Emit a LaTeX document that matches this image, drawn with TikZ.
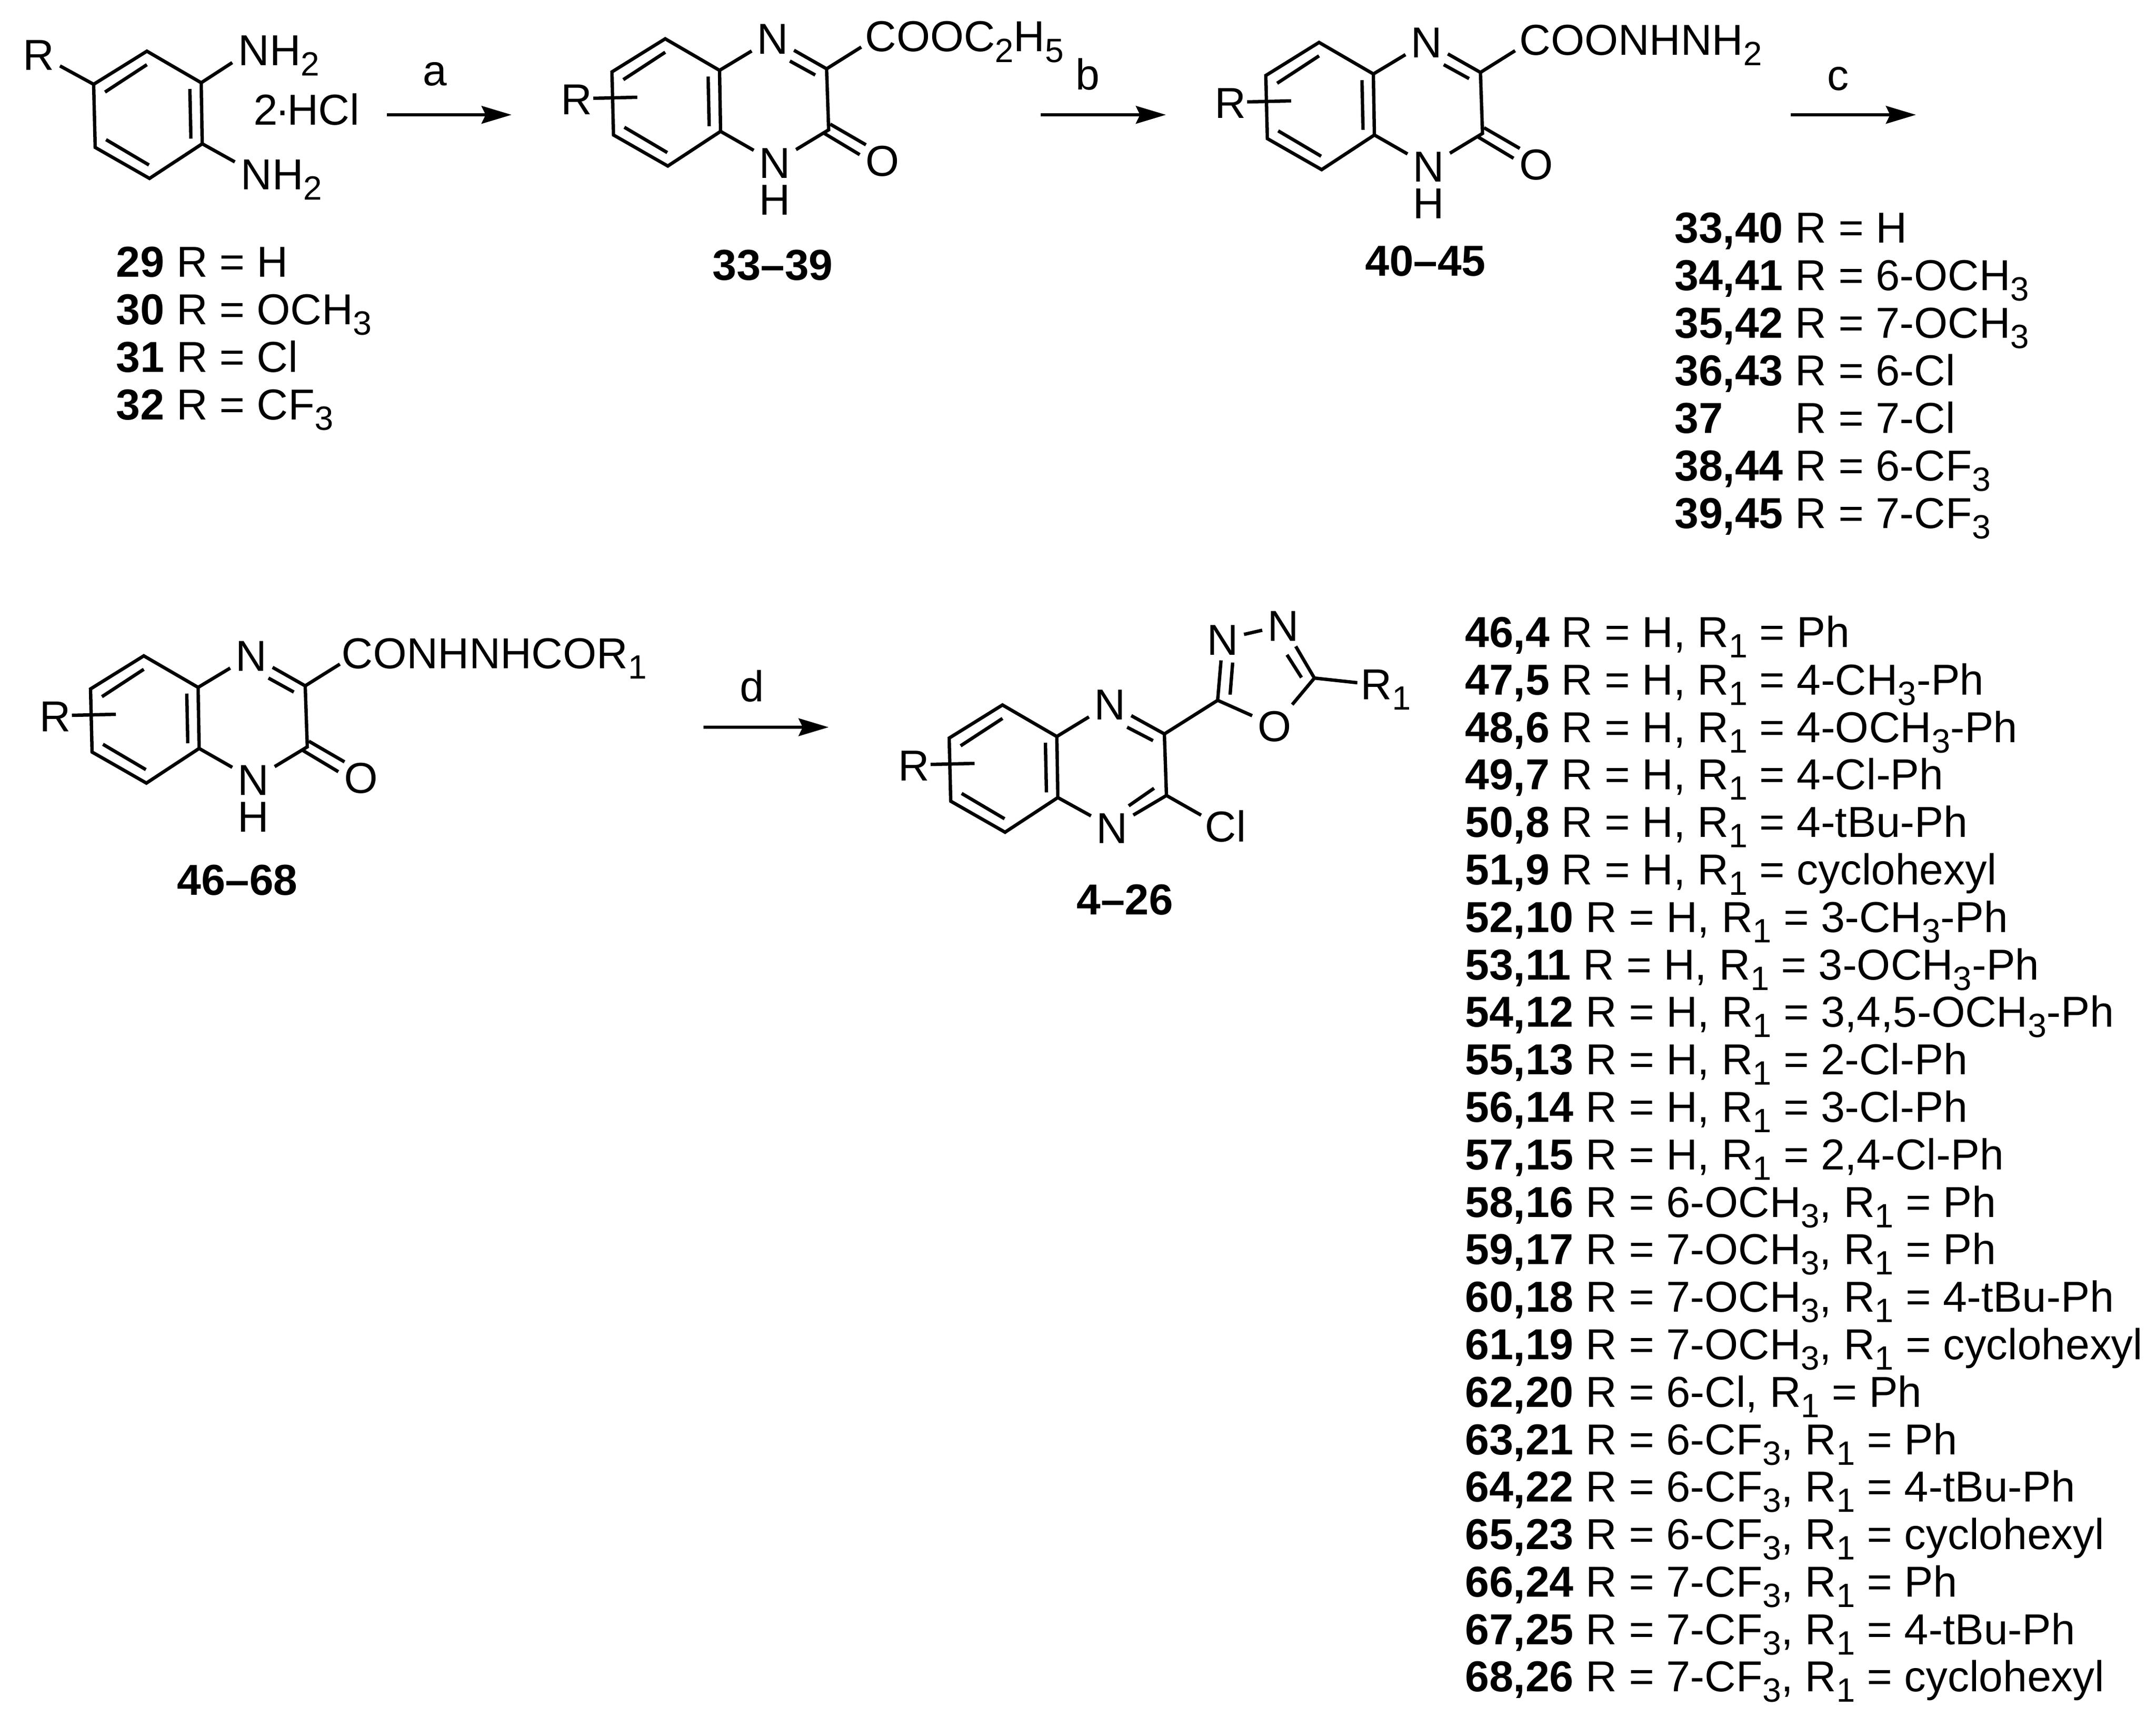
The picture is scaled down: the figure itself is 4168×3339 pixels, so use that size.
\documentclass[tikz,border=0pt]{standalone}
\usepackage{fontspec}
\setmainfont{Liberation Sans}
\usepackage{tikz}
\usetikzlibrary{arrows.meta}

\newcommand{\chemfont}{\fontsize{23.8}{28}\selectfont}
\newcommand{\sbs}[1]{\raisebox{-0.24em}{\fontsize{18.5}{18.5}\selectfont #1}}

\tikzset{
    bond/.style={line width=0.065cm},
    rxn/.style={line width=0.065cm,-{Stealth[length=0.58cm,width=0.34cm,inset=0.08cm]}},
    atom/.style={inner sep=0.1cm,text height=0.6cm,text depth=0pt},
    tail/.style={inner sep=0pt,text height=0.6cm,text depth=0pt},
    lbl/.style={anchor=base west,inner sep=0pt},
    cond/.style={anchor=base,inner sep=0pt},
    benzo/.pic={
        \coordinate (-top) at (0,0);
        \coordinate (-rt) at (105,61);
        \coordinate (-rb) at (107,179);
        \coordinate (-bot) at (5,246);
        \coordinate (-lb) at (-100,186);
        \coordinate (-lt) at (-103,64);
        \draw[bond] (-top) -- (-rt) -- (-rb) -- (-bot) -- (-lb) -- (-lt) -- cycle;
        \coordinate (-i1a) at (0,26);
        \coordinate (-i1b) at (-81,79);
        \coordinate (-i2a) at (83,73);
        \coordinate (-i2b) at (85,169);
        \coordinate (-i3a) at (4,220);
        \coordinate (-i3b) at (-79,171);
        \draw[bond] (-i1a) -- (-i1b);
        \draw[bond] (-i2a) -- (-i2b);
        \draw[bond] (-i3a) -- (-i3b);
    },
    rbar/.pic={
        \node[tail] (-r) at (-171,116) {R};
        \coordinate (-bara) at (-139,115);
        \coordinate (-barb) at (-54,113);
        \draw[bond] (-bara) -- (-barb);
    },
    pyrone/.pic={
        \node[atom] (-n1) at (208,-1) {N};
        \node[atom] (-n4) at (212,239) {N};
        \node[tail] (-h) at (212,310) {H};
        \node[atom] (-o) at (420,235) {O};
        \coordinate (-c3) at (312,58);
        \coordinate (-c2) at (316,176);
        \coordinate (-side) at (379,16);
        \draw[bond] (-rt) -- (-n1);
        \draw[bond] (-rb) -- (-n4);
        \draw[bond] (-n1) -- (-c3) -- (-c2) -- (-n4);
        \draw[bond] (-c3) -- (-side);
        \coordinate (-i4a) at (241,43);
        \coordinate (-i4b) at (290,70);
        \draw[bond] (-i4a) -- (-i4b);
        \coordinate (-oa) at (319,165);
        \coordinate (-ob) at (388,205);
        \coordinate (-oc) at (306,182);
        \coordinate (-od) at (376,224);
        \draw[bond] (-oa) -- (-ob);
        \draw[bond] (-oc) -- (-od);
    }
}

\begin{document}
\begin{tikzpicture}[x=0.01cm,y=-0.01cm,every node/.style={font=\chemfont}]
    \useasboundingbox (0,0) rectangle (4168,3339);

    % diamine
    \pic (q1) at (284,99) {benzo};
    \node[atom] (q1r) at (75,105) {R};
    \coordinate (q1na) at (449,121);
    \coordinate (q1nb) at (454,313);
    \draw[bond] (q1-lt) -- (q1r);
    \draw[bond] (q1-rt) -- (q1na);
    \draw[bond] (q1-rb) -- (q1nb);
    \node[lbl] (nh2a) at (460,126) {NH\sbs{2}};
    \node[lbl] (nh2b) at (465,366) {NH\sbs{2}};
    \node[lbl] (hcl) at (490,241) {2\kern-0.06em·\kern-0.06em HCl};
    \node[lbl] (l29) at (224,535) {\textbf{29} R = H};
    \node[lbl] (l30) at (224,627) {\textbf{30} R = OCH\sbs{3}};
    \node[lbl] (l31) at (224,719) {\textbf{31} R = Cl};
    \node[lbl] (l32) at (224,811) {\textbf{32} R = CF\sbs{3}};

    % arrows
    \coordinate (a1) at (748,222);
    \coordinate (a2) at (989,222);
    \draw[rxn] (a1) -- (a2);
    \node[cond] (ca) at (841,165) {a};
    \coordinate (b1) at (2012,222);
    \coordinate (b2) at (2254,222);
    \draw[rxn] (b1) -- (b2);
    \node[cond] (cb) at (2103,173) {b};
    \coordinate (c1) at (3462,222);
    \coordinate (c2) at (3704,222);
    \draw[rxn] (c1) -- (c2);
    \node[cond] (cc) at (3553,174) {c};
    \coordinate (d1) at (1360,1406);
    \coordinate (d2) at (1602,1406);
    \draw[rxn] (d1) -- (d2);
    \node[cond] (cd) at (1454,1356) {d};

    % ester
    \pic (q2) at (1286,75) {benzo};
    \pic (q2) at (1286,75) {rbar};
    \pic (q2) at (1286,75) {pyrone};
    \node[lbl] (coo2) at (1672,100) {COOC\sbs{2}H\sbs{5}};
    \node[lbl] (f2) at (1377,541) {\textbf{33–39}};

    % hydrazide
    \pic (q3) at (2550,82) {benzo};
    \pic (q3) at (2550,82) {rbar};
    \pic (q3) at (2550,82) {pyrone};
    \node[lbl] (coo3) at (2937,106) {COONHNH\sbs{2}};
    \node[lbl] (f3) at (2639,533) {\textbf{40–45}};

    \node[lbl] (l33) at (3237,469) {\textbf{33,40} R = H};
    \node[lbl] (l34) at (3237,561) {\textbf{34,41} R = 6-OCH\sbs{3}};
    \node[lbl] (l35) at (3237,653) {\textbf{35,42} R = 7-OCH\sbs{3}};
    \node[lbl] (l36) at (3237,745) {\textbf{36,43} R = 6-Cl};
    \node[lbl] (l37) at (3237,837) {\textbf{37}\phantom{\textbf{,40}} R = 7-Cl};
    \node[lbl] (l38) at (3237,929) {\textbf{38,44} R = 6-CF\sbs{3}};
    \node[lbl] (l39) at (3237,1021) {\textbf{39,45} R = 7-CF\sbs{3}};

    % diacyl hydrazide
    \pic (q4) at (278,1268) {benzo};
    \pic (q4) at (278,1268) {rbar};
    \pic (q4) at (278,1268) {pyrone};
    \node[lbl] (coo4) at (660,1292) {CONHNHCOR\sbs{1}};
    \node[lbl] (f4) at (342,1730) {\textbf{46–68}};

    % oxadiazole
    \pic (q5) at (1938,1363) {benzo};
    \pic (q5) at (1938,1363) {rbar};
    \node[atom] (q5n1) at (2146,1361) {N};
    \node[atom] (q5n4) at (2150,1600) {N};
    \coordinate (q5c3) at (2251,1419);
    \coordinate (q5c2) at (2255,1538);
    \draw[bond] (q5-rt) -- (q5n1);
    \draw[bond] (q5-rb) -- (q5n4);
    \draw[bond] (q5n1) -- (q5c3) -- (q5c2) -- (q5n4);
    \coordinate (q5ia) at (2179,1406);
    \coordinate (q5ib) at (2229,1432);
    \draw[bond] (q5ia) -- (q5ib);
    \coordinate (q5ic) at (2231,1524);
    \coordinate (q5id) at (2182,1558);
    \draw[bond] (q5ic) -- (q5id);
    \coordinate (q5cl) at (2322,1576);
    \draw[bond] (q5c2) -- (q5cl);
    \node[lbl] (cl) at (2329,1627) {Cl};

    \coordinate (ox5) at (2354,1354);
    \coordinate (ox2) at (2541,1311);
    \node[atom] (oxn4) at (2364,1236) {N};
    \node[atom] (oxn3) at (2481,1209) {N};
    \node[atom] (oxo) at (2464,1403) {O};
    \draw[bond] (q5c3) -- (ox5);
    \draw[bond] (ox5) -- (oxn4);
    \draw[bond] (oxn4) -- (oxn3);
    \draw[bond] (oxn3) -- (ox2);
    \draw[bond] (ox2) -- (oxo);
    \draw[bond] (oxo) -- (ox5);
    \coordinate (oxia) at (2383,1281);
    \coordinate (oxib) at (2378,1343);
    \draw[bond] (oxia) -- (oxib);
    \coordinate (oxic) at (2488,1266);
    \coordinate (oxid) at (2516,1310);
    \draw[bond] (oxic) -- (oxid);
    \coordinate (oxr) at (2624,1320);
    \draw[bond] (ox2) -- (oxr);
    \node[lbl] (r1) at (2630,1352) {R\sbs{1}};
    \node[lbl] (f5) at (2081,1768) {\textbf{4–26}};

    \node[lbl] (l46) at (2832,1251) {\textbf{46,4} R = H, R\sbs{1} = Ph};
    \node[lbl] (l47) at (2832,1343) {\textbf{47,5} R = H, R\sbs{1} = 4-CH\sbs{3}-Ph};
    \node[lbl] (l48) at (2832,1435) {\textbf{48,6} R = H, R\sbs{1} = 4-OCH\sbs{3}-Ph};
    \node[lbl] (l49) at (2832,1526) {\textbf{49,7} R = H, R\sbs{1} = 4-Cl-Ph};
    \node[lbl] (l50) at (2832,1618) {\textbf{50,8} R = H, R\sbs{1} = 4-tBu-Ph};
    \node[lbl] (l51) at (2832,1710) {\textbf{51,9} R = H, R\sbs{1} = cyclohexyl};
    \node[lbl] (l52) at (2832,1802) {\textbf{52,10} R = H, R\sbs{1} = 3-CH\sbs{3}-Ph};
    \node[lbl] (l53) at (2832,1894) {\textbf{53,11} R = H, R\sbs{1} = 3-OCH\sbs{3}-Ph};
    \node[lbl] (l54) at (2832,1985) {\textbf{54,12} R = H, R\sbs{1} = 3,4,5-OCH\sbs{3}-Ph};
    \node[lbl] (l55) at (2832,2077) {\textbf{55,13} R = H, R\sbs{1} = 2-Cl-Ph};
    \node[lbl] (l56) at (2832,2169) {\textbf{56,14} R = H, R\sbs{1} = 3-Cl-Ph};
    \node[lbl] (l57) at (2832,2261) {\textbf{57,15} R = H, R\sbs{1} = 2,4-Cl-Ph};
    \node[lbl] (l58) at (2832,2353) {\textbf{58,16} R = 6-OCH\sbs{3}, R\sbs{1} = Ph};
    \node[lbl] (l59) at (2832,2444) {\textbf{59,17} R = 7-OCH\sbs{3}, R\sbs{1} = Ph};
    \node[lbl] (l60) at (2832,2536) {\textbf{60,18} R = 7-OCH\sbs{3}, R\sbs{1} = 4-tBu-Ph};
    \node[lbl] (l61) at (2832,2628) {\textbf{61,19} R = 7-OCH\sbs{3}, R\sbs{1} = cyclohexyl};
    \node[lbl] (l62) at (2832,2720) {\textbf{62,20} R = 6-Cl, R\sbs{1} = Ph};
    \node[lbl] (l63) at (2832,2812) {\textbf{63,21} R = 6-CF\sbs{3}, R\sbs{1} = Ph};
    \node[lbl] (l64) at (2832,2903) {\textbf{64,22} R = 6-CF\sbs{3}, R\sbs{1} = 4-tBu-Ph};
    \node[lbl] (l65) at (2832,2995) {\textbf{65,23} R = 6-CF\sbs{3}, R\sbs{1} = cyclohexyl};
    \node[lbl] (l66) at (2832,3087) {\textbf{66,24} R = 7-CF\sbs{3}, R\sbs{1} = Ph};
    \node[lbl] (l67) at (2832,3179) {\textbf{67,25} R = 7-CF\sbs{3}, R\sbs{1} = 4-tBu-Ph};
    \node[lbl] (l68) at (2832,3270) {\textbf{68,26} R = 7-CF\sbs{3}, R\sbs{1} = cyclohexyl};
\end{tikzpicture}
\end{document}
